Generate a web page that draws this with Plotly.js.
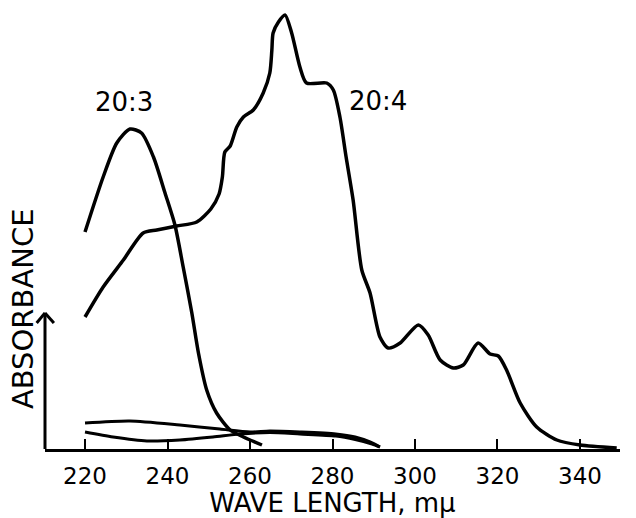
<!DOCTYPE html>
<html>
<head>
<meta charset="utf-8">
<script src="https://cdn.plot.ly/plotly-3.0.1.min.js"></script>
<style>html,body{margin:0;padding:0;background:#fff;}#chart{width:636px;height:518px;}</style>
</head>
<body>
<div id="chart"></div>
<script>
// wavelength (mμ) and absorbance (arbitrary units)
var wl203 = [220, 224.4, 227.7, 230.9, 233.7, 236.6, 239.4, 241.8, 243.8, 245.9, 247.5, 249.5, 251.9, 255.2, 258.4, 262.9];
var abs203 = [2.17, 2.72, 3.06, 3.20, 3.16, 2.92, 2.56, 2.24, 1.82, 1.36, 0.96, 0.59, 0.36, 0.19, 0.12, 0.04];

var wl204 = [220, 224.4, 229.3, 234.1, 237.4, 242.2, 247.1, 250.5, 252.5, 253.3, 253.9, 255.2, 256.8, 258.4, 260.8, 263.2, 264.8, 265.3, 265.6, 266.9, 268.5, 270.1, 272.1, 273.7, 278.6, 280.2, 281.8, 283.3, 285.0, 287.1, 289.1, 291.5, 293.5, 296.4, 300.8, 303.2, 306.1, 309.3, 311.7, 315.3, 318.2, 320.2, 322.2, 325.5, 329.5, 334.4, 340.0, 348.9];
var abs204 = [1.32, 1.62, 1.89, 2.16, 2.19, 2.23, 2.27, 2.40, 2.55, 2.72, 2.97, 3.03, 3.22, 3.32, 3.39, 3.56, 3.76, 3.99, 4.16, 4.27, 4.34, 4.16, 3.82, 3.66, 3.66, 3.59, 3.32, 2.92, 2.49, 1.79, 1.56, 1.12, 1.01, 1.06, 1.24, 1.14, 0.89, 0.81, 0.84, 1.06, 0.95, 0.93, 0.79, 0.46, 0.22, 0.09, 0.04, 0.01];

var wlBaseA = [220, 230.9, 243.0, 252.7, 260.0, 264.8, 272.1, 280.8, 285.5, 289.1, 291.5];
var absBaseA = [0.26, 0.28, 0.24, 0.20, 0.17, 0.18, 0.17, 0.15, 0.12, 0.07, 0.02];

var wlBaseB = [220, 226.8, 235.0, 243.0, 251.0, 257.6, 264.8, 272.1, 280.8, 285.5, 289.6, 291.5];
var absBaseB = [0.17, 0.12, 0.08, 0.09, 0.12, 0.15, 0.165, 0.15, 0.13, 0.095, 0.05, 0.02];

var xTicks = [220, 240, 260, 280, 300, 320, 340];
var seriesLabels = ["20:3", "20:4"];
var xTitle = "WAVE LENGTH, mμ";
var yTitle = "ABSORBANCE";

var FONT = "DejaVu Sans, sans-serif";
function curve(x, y, w) {
  return {x: x, y: y, type: "scatter", mode: "lines",
    line: {color: "#000", width: w, shape: "spline", smoothing: 0.7},
    hoverinfo: "skip", showlegend: false};
}
var data = [
  curve(wl203, abs203, 3.5),
  curve(wl204, abs204, 3.5),
  curve(wlBaseA, absBaseA, 3),
  curve(wlBaseB, absBaseB, 3)
];

var layout = {
  width: 636, height: 518,
  margin: {l: 45, r: 16, t: 10, b: 69, pad: 0},
  paper_bgcolor: "#fff", plot_bgcolor: "#fff",
  showlegend: false,
  font: {family: FONT, color: "#000"},
  xaxis: {
    range: [210.3, 349.7], tickvals: xTicks, ticktext: xTicks.map(String),
    showline: true, linecolor: "#000", linewidth: 3,
    ticks: "inside", ticklen: 10, tickwidth: 2, tickcolor: "#000",
    showgrid: false, zeroline: false,
    tickfont: {family: FONT, size: 23, color: "#000"},
    ticklabelstandoff: 4,
    title: {text: xTitle, font: {family: FONT, size: 26, color: "#000"}, standoff: 8}
  },
  yaxis: {
    range: [0, 4.39], showline: false, showticklabels: false, ticks: "",
    showgrid: false, zeroline: false
  },
  shapes: [
    {type: "line", xref: "paper", yref: "paper", x0: 0, x1: 0, y0: 0, y1: 0.31, line: {color: "#000", width: 3}},
    {type: "line", xref: "paper", yref: "paper", x0: -0.0145, x1: 0, y0: 0.287, y1: 0.31, line: {color: "#000", width: 3}},
    {type: "line", xref: "paper", yref: "paper", x0: 0.0155, x1: 0, y0: 0.287, y1: 0.31, line: {color: "#000", width: 3}}
  ],
  annotations: [
    {text: seriesLabels[0], x: 229.5, y: 3.47, xref: "x", yref: "y", showarrow: false,
      font: {family: FONT, size: 26, color: "#000"}},
    {text: seriesLabels[1], x: 291, y: 3.48, xref: "x", yref: "y", showarrow: false,
      font: {family: FONT, size: 26, color: "#000"}},
    {text: yTitle, x: -0.038, y: 0.319, xref: "paper", yref: "paper", showarrow: false,
      textangle: -90, xanchor: "center", yanchor: "middle",
      font: {family: FONT, size: 29, color: "#000"}}
  ]
};
Plotly.newPlot("chart", data, layout, {staticPlot: true, displayModeBar: false});
</script>
</body>
</html>
